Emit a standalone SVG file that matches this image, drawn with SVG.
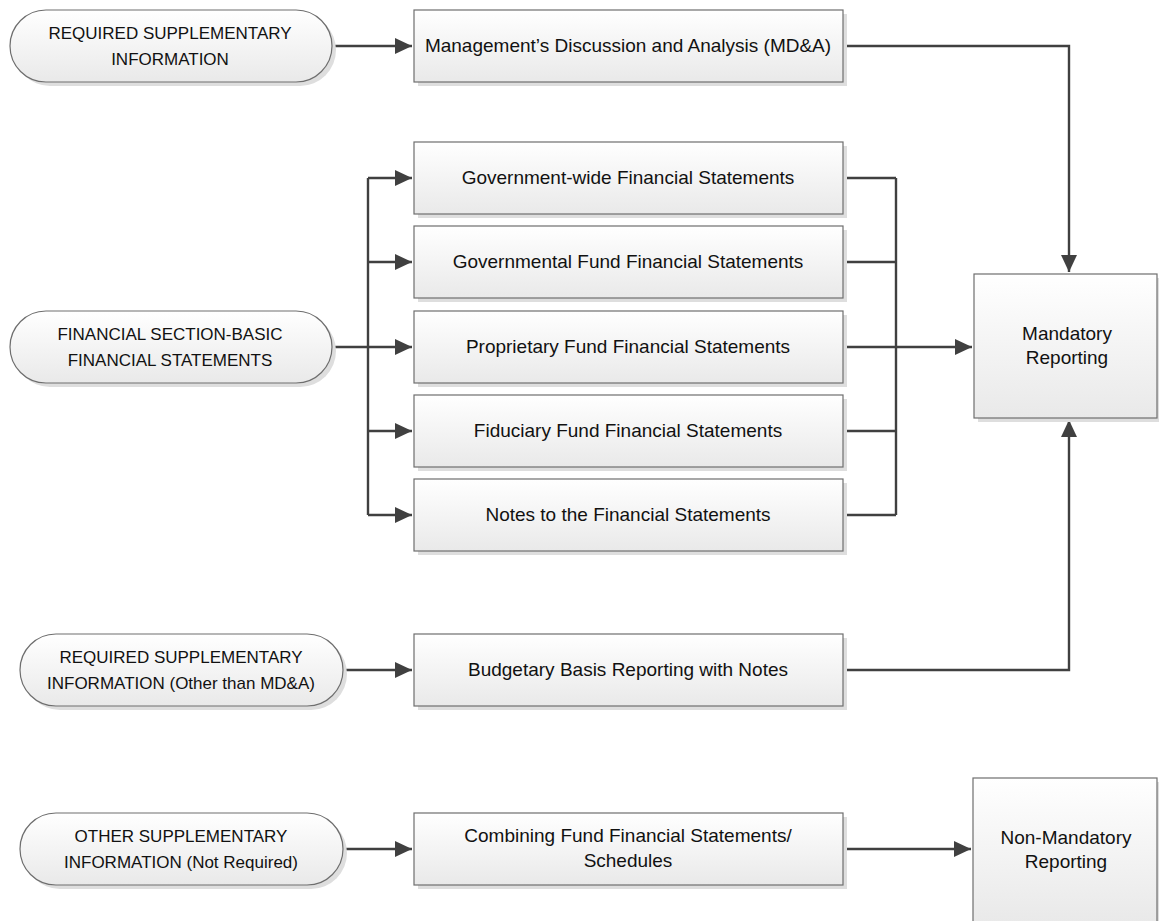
<svg xmlns="http://www.w3.org/2000/svg" width="1159" height="921" viewBox="0 0 1159 921">
<defs>
<linearGradient id="g" x1="0" y1="0" x2="0" y2="1">
<stop offset="0" stop-color="#ffffff"/>
<stop offset="1" stop-color="#e9e9e9"/>
</linearGradient>
<marker id="ah" markerUnits="userSpaceOnUse" markerWidth="17" markerHeight="16" refX="17" refY="8" orient="auto" viewBox="0 0 17 16">
<path d="M0,0 L17,8 L0,16 z" fill="#404040"/>
</marker>
<style>
.sh{fill:#dedede}
.bx{fill:url(#g);stroke:#6e6e6e;stroke-width:1.2}
.t{font-family:"Liberation Sans",Arial,sans-serif;font-size:17px;fill:#111;text-anchor:middle}
.tb{font-family:"Liberation Sans",Arial,sans-serif;font-size:19px;fill:#111;text-anchor:middle}
.c{fill:none;stroke:#404040;stroke-width:2.4}
.a{marker-end:url(#ah)}
</style>
</defs>
<rect width="1159" height="921" fill="#ffffff"/>

<g id="connectors">
<path class="c a" d="M332,46 H412"/>
<path class="c a" d="M843,46 H1069 V272"/>
<path class="c" d="M332,347 H368"/>
<path class="c" d="M368,178 V515"/>
<path class="c a" d="M368,178 H412"/>
<path class="c a" d="M368,262 H412"/>
<path class="c a" d="M368,347 H412"/>
<path class="c a" d="M368,431 H412"/>
<path class="c a" d="M368,515 H412"/>
<path class="c" d="M843,178 H896 M843,262 H896 M843,431 H896 M843,515 H896"/>
<path class="c" d="M896,178 V515"/>
<path class="c a" d="M843,347 H972"/>
<path class="c a" d="M343,670 H412"/>
<path class="c a" d="M843,670 H1069 V420"/>
<path class="c a" d="M343,849 H412"/>
<path class="c a" d="M843,849 H971"/>
</g>

<g id="rsi-mda">
<rect class="sh" x="14" y="14" width="322" height="72" rx="36"/>
<rect class="bx" x="10" y="10" width="322" height="72" rx="36"/>
<text class="t" x="170" y="39">REQUIRED SUPPLEMENTARY</text>
<text class="t" x="170" y="65">INFORMATION</text>
</g>

<g id="mda">
<rect class="sh" x="418" y="14" width="429" height="72"/>
<rect class="bx" x="414" y="10" width="429" height="72"/>
<text class="tb" x="628" y="52">Management’s Discussion and Analysis (MD&amp;A)</text>
</g>

<g id="basic">
<rect class="sh" x="14" y="315" width="322" height="72" rx="36"/>
<rect class="bx" x="10" y="311" width="322" height="72" rx="36"/>
<text class="t" x="170" y="340">FINANCIAL SECTION-BASIC</text>
<text class="t" x="170" y="366">FINANCIAL STATEMENTS</text>
</g>

<g id="govwide">
<rect class="sh" x="418" y="146" width="429" height="72"/>
<rect class="bx" x="414" y="142" width="429" height="72"/>
<text class="tb" x="628" y="184">Government-wide Financial Statements</text>
</g>

<g id="govfund">
<rect class="sh" x="418" y="230" width="429" height="72"/>
<rect class="bx" x="414" y="226" width="429" height="72"/>
<text class="tb" x="628" y="268">Governmental Fund Financial Statements</text>
</g>

<g id="propfund">
<rect class="sh" x="418" y="315" width="429" height="72"/>
<rect class="bx" x="414" y="311" width="429" height="72"/>
<text class="tb" x="628" y="353">Proprietary Fund Financial Statements</text>
</g>

<g id="fidfund">
<rect class="sh" x="418" y="399" width="429" height="72"/>
<rect class="bx" x="414" y="395" width="429" height="72"/>
<text class="tb" x="628" y="437">Fiduciary Fund Financial Statements</text>
</g>

<g id="notes">
<rect class="sh" x="418" y="483" width="429" height="72"/>
<rect class="bx" x="414" y="479" width="429" height="72"/>
<text class="tb" x="628" y="521">Notes to the Financial Statements</text>
</g>

<g id="mandatory">
<rect class="sh" x="978" y="278" width="184" height="144"/>
<rect class="bx" x="974" y="274" width="183" height="144"/>
<text class="tb" x="1067" y="340">Mandatory</text>
<text class="tb" x="1067" y="364">Reporting</text>
</g>

<g id="rsi-other">
<rect class="sh" x="24" y="638" width="323" height="72" rx="36"/>
<rect class="bx" x="20" y="634" width="323" height="72" rx="36"/>
<text class="t" x="181" y="663">REQUIRED SUPPLEMENTARY</text>
<text class="t" x="181" y="689">INFORMATION (Other than MD&amp;A)</text>
</g>

<g id="budgetary">
<rect class="sh" x="418" y="638" width="429" height="72"/>
<rect class="bx" x="414" y="634" width="429" height="72"/>
<text class="tb" x="628" y="676">Budgetary Basis Reporting with Notes</text>
</g>

<g id="osi">
<rect class="sh" x="24" y="817" width="323" height="72" rx="36"/>
<rect class="bx" x="20" y="813" width="323" height="72" rx="36"/>
<text class="t" x="181" y="842">OTHER SUPPLEMENTARY</text>
<text class="t" x="181" y="868">INFORMATION (Not Required)</text>
</g>

<g id="combining">
<rect class="sh" x="418" y="817" width="429" height="72"/>
<rect class="bx" x="414" y="813" width="429" height="72"/>
<text class="tb" x="628" y="842">Combining Fund Financial Statements/</text>
<text class="tb" x="628" y="867">Schedules</text>
</g>

<g id="nonmandatory">
<rect class="sh" x="977" y="782" width="185" height="144"/>
<rect class="bx" x="973" y="778" width="184" height="144"/>
<text class="tb" x="1066" y="844">Non-Mandatory</text>
<text class="tb" x="1066" y="868">Reporting</text>
</g>
</svg>
